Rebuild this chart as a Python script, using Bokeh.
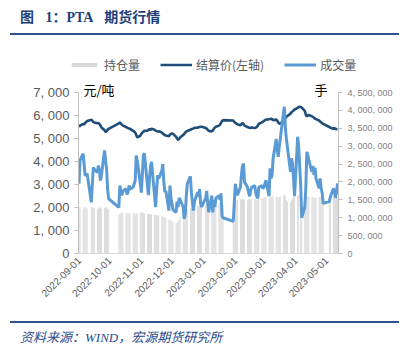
import math
import pandas as pd
from bokeh.plotting import figure
from bokeh.models import (Range1d, LinearAxis, FixedTicker, DatetimeTickFormatter,
                          CustomJSTickFormatter, Legend, LegendItem, Label, Div,
                          ColumnDataSource)
from bokeh.layouts import column
from bokeh.embed import file_html
from bokeh.resources import INLINE

# ---------------- texts ----------------
title_text = "图 1：PTA 期货行情"
source_text = "资料来源：WIND，宏源期货研究所"
series_names = ["持仓量", "结算价(左轴)", "成交量"]
left_unit = "元/吨"
right_unit = "手"

# ---------------- categories (trading days) ----------------
start_date = "2022-09-01"
end_date = "2023-05-12"
holidays = ["2022-09-12", "2022-10-03", "2022-10-04", "2022-10-05", "2022-10-06",
            "2022-10-07", "2023-01-02", "2023-01-23", "2023-01-24", "2023-01-25",
            "2023-01-26", "2023-01-27", "2023-04-05", "2023-05-01", "2023-05-02",
            "2023-05-03"]
month_ticks = ["2022-09-01", "2022-10-01", "2022-11-01", "2022-12-01", "2023-01-01",
               "2023-02-01", "2023-03-01", "2023-04-01", "2023-05-01"]
left_ticks = [0, 1000, 2000, 3000, 4000, 5000, 6000, 7000]
right_ticks = [0, 500000, 1000000, 1500000, 2000000, 2500000, 3000000, 3500000,
               4000000, 4500000]

# ---------------- settlement price (元/吨) ----------------
settle_sep = [5500, 5560, 5640, 5600, 5680, 5720, 5760, 5810, 5780, 5720, 5700, 5660,
              5670, 5640, 5560, 5480, 5360, 5280, 5320, 5380, 5420]
settle_oct = [5660, 5700, 5650, 5600, 5560, 5500, 5480, 5450, 5430, 5420, 5330, 5300,
              5260, 5150, 5050, 5120]
settle_nov = [5200, 5260, 5290, 5340, 5340, 5380, 5400, 5380, 5420, 5380, 5340, 5320,
              5300, 5320, 5260, 5220, 5180, 5150, 5130, 5100, 5160, 5200]
settle_dec = [5220, 5200, 5080, 5000, 4940, 4980, 5050, 5150, 5200, 5260, 5300, 5330,
              5380, 5400, 5420, 5440, 5460, 5470, 5490, 5500, 5510, 5510]
settle_jan = [5460, 5420, 5380, 5330, 5310, 5350, 5420, 5480, 5510, 5560, 5600, 5680,
              5760, 5800, 5780, 5720]
settle_feb = [5680, 5650, 5620, 5580, 5620, 5670, 5640, 5560, 5500, 5480, 5470, 5460,
              5480, 5460, 5470, 5500, 5560, 5640, 5700, 5730]
settle_mar = [5760, 5800, 5820, 5840, 5850, 5860, 5840, 5800, 5820, 5780, 5700, 5640,
              5660, 5740, 5800, 5880, 5940, 5980, 6080, 6140, 6180, 6220, 6260]
settle_apr = [6330, 6380, 6370, 6340, 6200, 6040, 5960, 6000, 6020, 5960, 5940, 5900,
              5860, 5840, 5780, 5740, 5700, 5660, 5640]
settle_may = [5500, 5470, 5420, 5450, 5430, 5400, 5400]

# ---------------- volume (百万手) ----------------
vol_sep = [1.95, 2.60, 2.79, 2.50, 2.18, 2.20, 2.23, 1.43, 1.90, 2.41, 2.35, 2.27,
           2.46, 2.30, 2.04, 2.20, 2.88, 2.60, 2.37, 1.80, 1.53]
vol_oct = [1.29, 1.90, 1.75, 1.62, 1.75, 1.81, 1.65, 1.72, 1.90, 1.80, 1.85, 1.95,
           2.04, 2.74, 2.60, 1.95]
vol_nov = [1.70, 2.20, 2.75, 2.80, 1.90, 1.63, 2.10, 2.45, 2.56, 1.60, 1.30, 1.80,
           2.19, 2.10, 2.30, 2.50, 2.00, 1.72, 1.75, 1.20, 1.90, 1.55]
vol_dec = [1.40, 1.22, 1.15, 1.45, 1.30, 1.55, 1.50, 1.30, 0.97, 1.10, 1.60, 1.95,
           2.16, 1.70, 1.44, 1.20, 1.45, 1.71, 1.60, 1.80, 1.40, 1.30]
vol_jan = [1.55, 1.75, 1.40, 1.15, 1.62, 1.15, 1.50, 1.30, 1.55, 1.62, 1.50, 1.68,
           1.05, 1.00, 0.90, 1.40]
vol_feb = [1.95, 1.80, 1.63, 1.85, 2.20, 2.45, 2.51, 2.00, 1.85, 1.70, 1.60, 1.75,
           1.85, 1.90, 1.70, 1.60, 1.54, 1.85, 1.90, 1.82]
vol_mar = [1.85, 1.95, 2.05, 1.60, 2.38, 2.10, 2.20, 2.66, 3.20, 2.90, 2.70, 3.00,
           3.20, 3.90, 4.10, 3.50, 3.20, 2.98, 2.28, 2.66, 2.50, 2.10, 1.60]
vol_apr = [3.26, 3.00, 1.90, 1.00, 1.30, 1.82, 2.84, 2.75, 2.60, 2.28, 2.45, 2.20,
           2.40, 2.10, 1.82, 2.10, 1.82, 1.70, 1.40]
vol_may = [1.45, 1.58, 1.82, 1.75, 1.55, 1.70, 1.96]

# ---------------- open interest (百万手) ----------------
oi_sep = [1.28, 1.30, 1.26, 1.29, 1.31, 1.27, 1.25, 1.29, 1.30, 1.28, 1.26, 1.24,
          1.27, 1.29, 1.28, 1.25, 1.27, 1.30, 1.29, 1.26, 1.24]
oi_oct = [1.10, 1.12, 1.14, 1.13, 1.11, 1.12, 1.14, 1.12, 1.13, 1.11, 1.14, 1.12,
          1.10, 1.13, 1.12, 1.15]
oi_nov = [1.14, 1.16, 1.13, 1.12, 1.12, 1.10, 1.11, 1.09, 1.10, 1.08, 1.09, 1.07,
          1.06, 1.08, 1.05, 1.03, 1.04, 1.02, 1.00, 0.96, 0.94, 0.92]
oi_dec = [0.90, 0.88, 0.86, 0.84, 0.88, 0.95, 1.02, 1.10, 1.15, 1.18, 1.22, 1.24,
          1.26, 1.27, 1.25, 1.28, 1.30, 1.32, 1.34, 1.33, 1.35, 1.36]
oi_jan = [1.36, 1.38, 1.35, 1.37, 1.40, 1.38, 1.39, 1.41, 1.40, 1.42, 1.39, 1.38,
          1.36, 1.34, 1.44, 1.46]
oi_feb = [1.47, 1.49, 1.50, 1.52, 1.51, 1.53, 1.52, 1.50, 1.49, 1.51, 1.52, 1.50,
          1.53, 1.54, 1.52, 1.50, 1.51, 1.53, 1.55, 1.54]
oi_mar = [1.56, 1.58, 1.57, 1.55, 1.59, 1.60, 1.58, 1.62, 1.60, 1.57, 1.55, 1.58,
          1.60, 1.62, 1.64, 1.60, 1.50, 1.45, 1.42, 1.48, 1.55, 1.58, 1.60]
oi_apr = [1.62, 1.63, 1.60, 1.58, 1.55, 1.57, 1.59, 1.58, 1.60, 1.58, 1.56, 1.57,
          1.55, 1.56, 1.57, 1.58, 1.56, 1.55, 1.53]
oi_may = [1.50, 1.52, 1.54, 1.55, 1.53, 1.55, 1.56]

# ---------------- assemble ----------------
dates = [d for d in pd.bdate_range(start_date, end_date)
         if d.strftime("%Y-%m-%d") not in holidays]
settle = (settle_sep + settle_oct + settle_nov + settle_dec + settle_jan +
          settle_feb + settle_mar + settle_apr + settle_may)
volume = [v * 1e6 for v in (vol_sep + vol_oct + vol_nov + vol_dec + vol_jan +
                            vol_feb + vol_mar + vol_apr + vol_may)]
oi = [v * 1e6 for v in (oi_sep + oi_oct + oi_nov + oi_dec + oi_jan +
                        oi_feb + oi_mar + oi_apr + oi_may)]
src = ColumnDataSource(data=dict(date=dates, settle=settle, volume=volume, oi=oi))

DAY_MS = 86400000
LABEL_FONT = "Liberation Sans"
CJK_FONT = "Noto Sans CJK SC"
GRAY = "#d9d9d9"
DARK = "#1F4E79"
LIGHT = "#5B9BD5"

# frame: x 78..338, y 80..253 (ticks span 92..253); the headroom holds unit labels
LEFT_MAX = 7000
RIGHT_MAX = 4500000
HEAD = 173.0 / 161.0

p = figure(width=409, height=238, x_axis_type="datetime", output_backend="svg",
           toolbar_location=None, title=None, frame_align=False,
           x_range=Range1d(pd.Timestamp("2022-08-31 12:00"), pd.Timestamp("2023-05-13 00:00")),
           y_range=Range1d(0, LEFT_MAX * HEAD),
           min_border_left=78, min_border_right=71, min_border_top=0,
           min_border_bottom=65, background_fill_color="white",
           border_fill_color="white")
p.extra_y_ranges = {"right": Range1d(0, RIGHT_MAX * HEAD)}
p.outline_line_color = None
p.xgrid.visible = False
p.ygrid.visible = False

bars = p.vbar(x="date", top="oi", bottom=0, width=DAY_MS * 0.9, source=src,
              y_range_name="right", fill_color=GRAY, line_color=None)
dark = p.line("date", "settle", source=src, line_color=DARK, line_width=2.6)
light = p.line("date", "volume", source=src, y_range_name="right",
               line_color=LIGHT, line_width=3)

# x axis
xa = p.xaxis[0]
xa.ticker = FixedTicker(ticks=[pd.Timestamp(t).value // 10**6 for t in month_ticks])
fmt = "%Y-%m-%d"
xa.formatter = DatetimeTickFormatter(microseconds=fmt, milliseconds=fmt, seconds=fmt,
                                     minsec=fmt, minutes=fmt, hourmin=fmt, hours=fmt,
                                     days=fmt, months=fmt, years=fmt)
xa.major_label_orientation = math.pi / 4
xa.major_label_text_font = LABEL_FONT
xa.major_label_text_font_size = "10px"
xa.major_label_text_color = "#595959"
xa.axis_line_color = GRAY
xa.major_tick_out = 0
xa.major_tick_in = 0
xa.minor_tick_out = 0
xa.minor_tick_in = 0
xa.major_label_standoff = 5

ya = p.yaxis[0]
ya.ticker = FixedTicker(ticks=left_ticks)
ya.bounds = (0, LEFT_MAX)
ya.formatter = CustomJSTickFormatter(code="return tick.toLocaleString('en-US').replace(/,/g, ', ');")
ya.major_label_text_font = LABEL_FONT
ya.major_label_text_font_size = "13px"
ya.major_label_text_color = "#595959"
ya.axis_line_color = "#bfbfbf"
ya.major_tick_line_color = "#bfbfbf"
ya.major_tick_out = 4
ya.major_tick_in = 0
ya.minor_tick_out = 0
ya.minor_tick_in = 0
ya.major_label_standoff = 5

ra = LinearAxis(y_range_name="right", ticker=FixedTicker(ticks=right_ticks),
                bounds=(0, RIGHT_MAX),
                formatter=CustomJSTickFormatter(code="return tick.toLocaleString('en-US').replace(/,/g, ', ');"))
ra.major_label_text_font = LABEL_FONT
ra.major_label_text_font_size = "9px"
ra.major_label_text_color = "#7f7f7f"
ra.axis_line_color = "#bfbfbf"
ra.major_tick_line_color = "#bfbfbf"
ra.major_tick_out = 4
ra.major_tick_in = 0
ra.minor_tick_out = 0
ra.minor_tick_in = 0
ra.major_label_standoff = 5
p.add_layout(ra, "right")

# unit labels (inside the headroom of the frame)
p.add_layout(Label(x=5, y=164, x_units="screen", y_units="screen", text=left_unit,
                   text_baseline="middle", text_align="left", text_font=CJK_FONT,
                   text_font_size="13px", text_color="#000000"))
p.add_layout(Label(x=249, y=164, x_units="screen", y_units="screen", text=right_unit,
                   text_baseline="middle", text_align="right", text_font=CJK_FONT,
                   text_font_size="13px", text_color="#000000"))

# ---------------- legend strip (own canvas; the series' renderers fall outside its range) ----------------
lg = figure(width=409, height=44, output_backend="svg", toolbar_location=None,
            title=None, x_axis_location=None, y_axis_location=None, frame_align=False,
            x_range=Range1d(0, 1), y_range=Range1d(0, 1), min_border=0,
            background_fill_color="white", border_fill_color="white")
lg.outline_line_color = None
lg.xgrid.visible = False
lg.ygrid.visible = False
lg_bar = lg.vbar(x="date", top="oi", width=DAY_MS * 0.9, source=src,
                 fill_color=GRAY, line_color=None)
lg_dark = lg.line("date", "settle", source=src, line_color=DARK, line_width=2.6)
lg_light = lg.line("date", "volume", source=src, line_color=LIGHT, line_width=3)

legend = Legend(items=[LegendItem(label=series_names[0], renderers=[lg_bar]),
                       LegendItem(label=series_names[1], renderers=[lg_dark]),
                       LegendItem(label=series_names[2], renderers=[lg_light])],
                orientation="horizontal", location=(68, 7),
                label_text_font=CJK_FONT, label_text_font_size="12px",
                label_text_color="#595959", glyph_width=32, glyph_height=5,
                label_standoff=4, spacing=20, padding=0, margin=0,
                label_height=14, border_line_alpha=0, background_fill_alpha=0)
lg.add_layout(legend, "center")

title_html = (
    '<div style="position:relative;width:409px;height:36px;">'
    '<div style="position:absolute;left:20px;top:11px;white-space:nowrap;word-spacing:8px;'
    "font-family:'Liberation Serif','Noto Sans CJK SC';font-weight:bold;font-size:14px;"
    'line-height:14px;color:#1F3E7A;">' + title_text + '</div>'
    '<div style="position:absolute;left:10px;top:33px;width:389px;height:2px;'
    'background:#2F528F;"></div></div>'
)
footer_html = (
    '<div style="position:relative;width:409px;height:35px;">'
    '<div style="position:absolute;left:10px;top:3px;width:389px;height:2px;'
    'background:#2F528F;"></div>'
    '<div style="position:absolute;left:20px;top:13px;white-space:nowrap;'
    "font-family:'Liberation Serif','Noto Sans CJK SC';font-style:italic;font-size:13px;"
    'line-height:13px;color:#2B4C8C;">' + source_text + '</div></div>'
)
title_div = Div(text=title_html, width=409, height=36, margin=(0, 0, 0, 0))
footer_div = Div(text=footer_html, width=409, height=35, margin=(0, 0, 0, 0))

layout = column(title_div, lg, p, footer_div, spacing=0, margin=(0, 0, 0, 0))

open("out.html", "w").write(file_html(layout, INLINE))
